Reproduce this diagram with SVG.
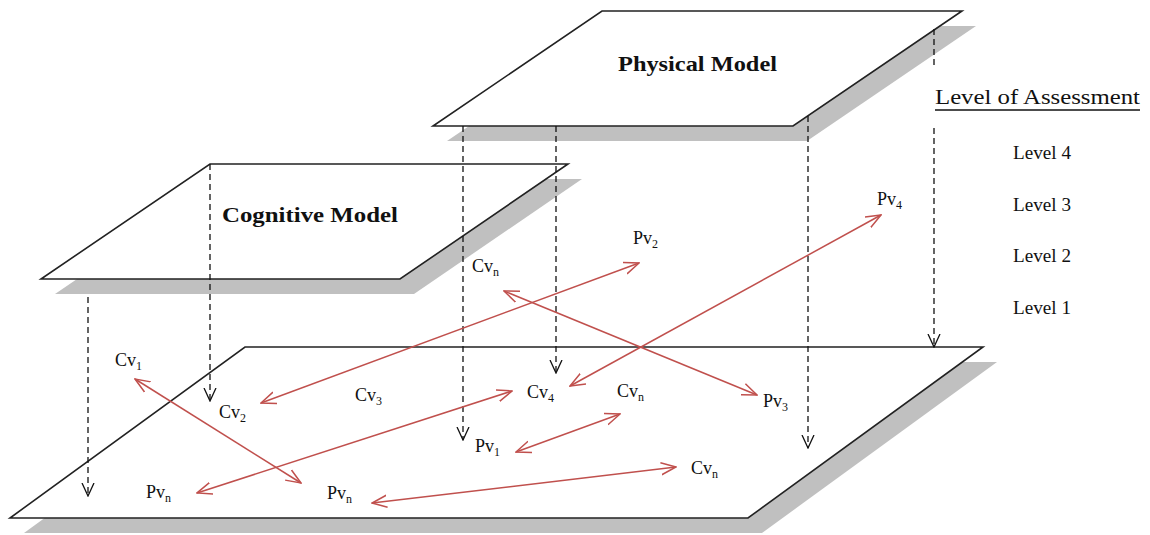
<svg xmlns="http://www.w3.org/2000/svg" width="1150" height="535" viewBox="0 0 1150 535">
<style>
.shadow{fill:#c0c0c0;stroke:none}
.plane{fill:#fff;stroke:#222;stroke-width:1.6}
.dash{stroke:#111;stroke-width:1.3;stroke-dasharray:6,4;fill:none}
.rel{stroke:#c0504d;stroke-width:1.5;fill:none}
.lbl{font-family:"Liberation Serif","Times New Roman",serif;font-size:18px;fill:#111}
.sub{font-size:12px}
.title{font-family:"Liberation Serif","Times New Roman",serif;font-size:22px;font-weight:bold;fill:#111}
.lvl{font-family:"Liberation Serif","Times New Roman",serif;font-size:18px;fill:#111}
</style>
<defs>
<marker id="dhead" viewBox="0 0 14 14" refX="13" refY="7" markerWidth="14" markerHeight="14" markerUnits="userSpaceOnUse" orient="auto">
<path d="M0,1 L13,7 L0,13" fill="none" stroke="#111" stroke-width="1.3"/>
</marker>
<marker id="rhead" viewBox="0 0 16 14" refX="15" refY="7" markerWidth="16" markerHeight="14" markerUnits="userSpaceOnUse" orient="auto-start-reverse">
<path d="M0,1 L15,7 L0,13" fill="none" stroke="#c0504d" stroke-width="1.5"/>
</marker>
</defs>
<rect width="1150" height="535" fill="#fff"/>

<g id="base-plane">
<polygon class="shadow" points="259,362 997,362 762,533 24,533"/>
<polygon class="plane" points="245,347 983,347 748,518 10,518"/>
</g>
<g id="cognitive-model">
<polygon class="shadow" points="224,179 582,179 414,294 55,294"/>
<polygon class="plane" points="210,164 568,164 400,279 41,279"/>
<text class="title" x="222" y="222" textLength="176" lengthAdjust="spacingAndGlyphs">Cognitive Model</text>
</g>
<g id="physical-model">
<polygon class="shadow" points="616,26 976,26 807,141 447,141"/>
<polygon class="plane" points="602,11 962,11 793,126 433,126"/>
<text class="title" x="618" y="71" textLength="159" lengthAdjust="spacingAndGlyphs">Physical Model</text>
</g>
<g id="legend">
<text class="lvl" x="935" y="104" font-size="21" textLength="205" lengthAdjust="spacingAndGlyphs" style="font-size:21px">Level of Assessment</text>
<line x1="935" y1="110" x2="1140" y2="110" stroke="#111" stroke-width="1.6"/>
<text class="lvl" x="1013" y="159" textLength="58" lengthAdjust="spacingAndGlyphs">Level 4</text>
<text class="lvl" x="1013" y="211" textLength="58" lengthAdjust="spacingAndGlyphs">Level 3</text>
<text class="lvl" x="1013" y="262" textLength="58" lengthAdjust="spacingAndGlyphs">Level 2</text>
<text class="lvl" x="1013" y="314" textLength="58" lengthAdjust="spacingAndGlyphs">Level 1</text>
</g>

<g id="connectors">
<line class="dash" x1="88" y1="297" x2="88" y2="496" marker-end="url(#dhead)"/>
<line class="dash" x1="210" y1="164" x2="210" y2="401" marker-end="url(#dhead)"/>
<line class="dash" x1="463" y1="126" x2="463" y2="440" marker-end="url(#dhead)"/>
<line class="dash" x1="556" y1="126" x2="556" y2="373" marker-end="url(#dhead)"/>
<line class="dash" x1="808" y1="116" x2="808" y2="448" marker-end="url(#dhead)"/>
<line class="dash" x1="934" y1="29" x2="934" y2="68"/>
<line class="dash" x1="934" y1="128" x2="934" y2="347" marker-end="url(#dhead)"/>

<line class="rel" x1="135" y1="379" x2="301" y2="483" marker-start="url(#rhead)" marker-end="url(#rhead)"/>
<line class="rel" x1="261" y1="403" x2="639" y2="263" marker-start="url(#rhead)" marker-end="url(#rhead)"/>
<line class="rel" x1="197" y1="493" x2="512" y2="391" marker-start="url(#rhead)" marker-end="url(#rhead)"/>
<line class="rel" x1="372" y1="503" x2="676" y2="467" marker-start="url(#rhead)" marker-end="url(#rhead)"/>
<line class="rel" x1="516" y1="452" x2="620" y2="414" marker-start="url(#rhead)" marker-end="url(#rhead)"/>
<line class="rel" x1="504" y1="291" x2="757" y2="395" marker-start="url(#rhead)" marker-end="url(#rhead)"/>
<line class="rel" x1="570" y1="386" x2="881" y2="215" marker-start="url(#rhead)" marker-end="url(#rhead)"/>
</g>

<g id="labels">
<text class="lbl" x="115" y="366">Cv<tspan class="sub" dy="4">1</tspan></text>
<text class="lbl" x="219" y="418">Cv<tspan class="sub" dy="4">2</tspan></text>
<text class="lbl" x="355" y="401">Cv<tspan class="sub" dy="4">3</tspan></text>
<text class="lbl" x="527" y="398">Cv<tspan class="sub" dy="4">4</tspan></text>
<text class="lbl" x="472" y="272">Cv<tspan class="sub" dy="4">n</tspan></text>
<text class="lbl" x="617" y="397">Cv<tspan class="sub" dy="4">n</tspan></text>
<text class="lbl" x="691" y="474">Cv<tspan class="sub" dy="4">n</tspan></text>
<text class="lbl" x="475" y="452">Pv<tspan class="sub" dy="4">1</tspan></text>
<text class="lbl" x="633" y="244">Pv<tspan class="sub" dy="4">2</tspan></text>
<text class="lbl" x="763" y="407">Pv<tspan class="sub" dy="4">3</tspan></text>
<text class="lbl" x="877" y="205">Pv<tspan class="sub" dy="4">4</tspan></text>
<text class="lbl" x="146" y="498">Pv<tspan class="sub" dy="4">n</tspan></text>
<text class="lbl" x="327" y="499">Pv<tspan class="sub" dy="4">n</tspan></text>
</g>
</svg>
